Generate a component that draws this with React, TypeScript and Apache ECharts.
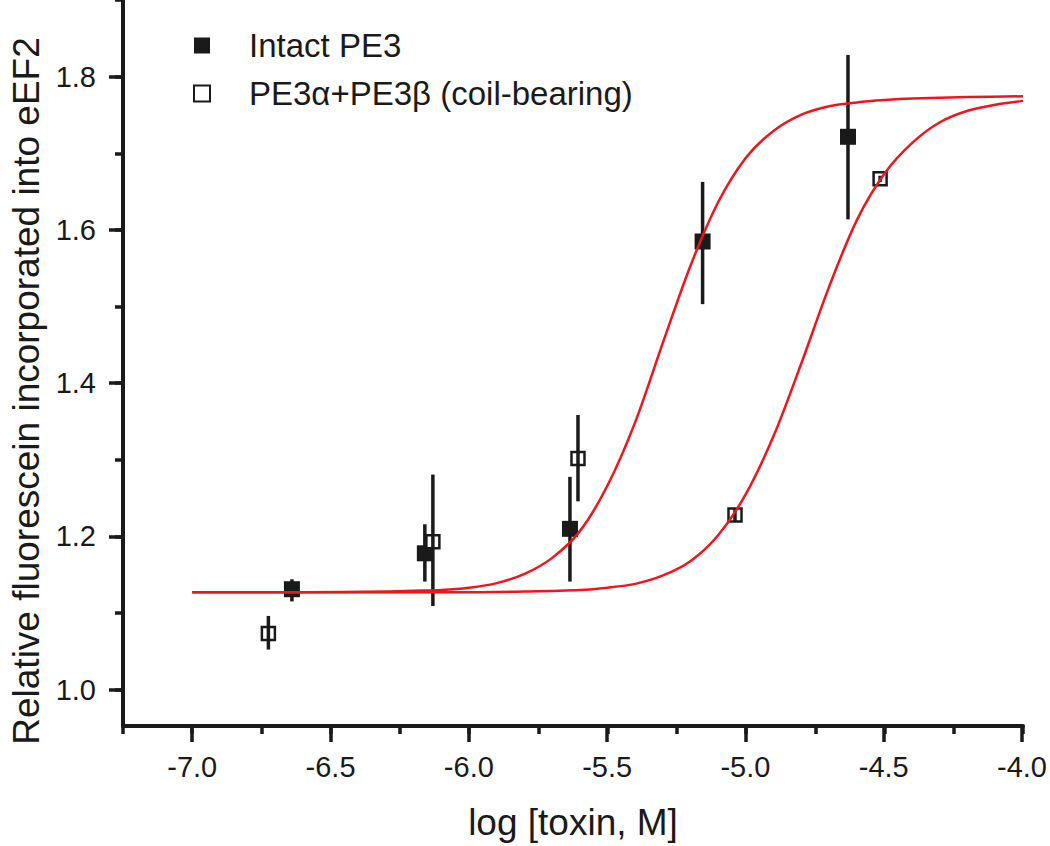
import React, { useEffect, useRef } from "react";
import * as echarts from "echarts";

// ---- data ----
const intactX = [-6.64, -6.16, -5.636, -5.157, -4.632];
const intactY = [1.129, 1.176, 1.208, 1.584, 1.721];
const intactLo = [1.113, 1.139, 1.139, 1.502, 1.613];
const intactHi = [1.142, 1.214, 1.276, 1.662, 1.828];

const coilX = [-6.725, -6.131, -5.607, -5.04, -4.516];
const coilY = [1.071, 1.191, 1.3, 1.226, 1.666];
const coilLo = [1.05, 1.107, 1.244, 1.218, 1.662];
const coilHi = [1.094, 1.279, 1.357, 1.234, 1.67];

// fitted curves
const fit1X = [-7.0, -6.6, -6.3, -6.2, -6.1, -6.0, -5.9, -5.8, -5.7, -5.6, -5.5, -5.4, -5.3, -5.2, -5.1, -5.0, -4.9, -4.8, -4.7, -4.6, -4.5, -4.4, -4.2, -4.0];
const fit1Y = [1.125, 1.125, 1.126, 1.127, 1.128, 1.131, 1.137, 1.149, 1.17, 1.205, 1.265, 1.348, 1.452, 1.553, 1.636, 1.694, 1.729, 1.75, 1.761, 1.766, 1.769, 1.771, 1.773, 1.774];

const fit2X = [-7.0, -6.5, -6.0, -5.8, -5.6, -5.5, -5.4, -5.3, -5.2, -5.1, -5.0, -4.9, -4.8, -4.7, -4.6, -4.5, -4.4, -4.3, -4.2, -4.1, -4.0];
const fit2Y = [1.125, 1.125, 1.125, 1.126, 1.128, 1.131, 1.136, 1.147, 1.166, 1.2, 1.254, 1.33, 1.425, 1.525, 1.612, 1.673, 1.713, 1.74, 1.755, 1.763, 1.768];

const seriesNames = ["Intact PE3", "PE3α+PE3β (coil-bearing)"];
const xTitle = "log [toxin, M]";
const yTitle = "Relative fluorescein incorporated into eEF2";

// axis ranges
const X_MIN = -7.25, X_MAX = -4.0, X_MAJOR_MIN = -7.0, X_MAJOR_STEP = 0.5, X_MINOR_STEP = 0.25;
const Y_MIN = 0.95, Y_MAX = 1.9, Y_MAJOR_MIN = 1.0, Y_MAJOR_MAX = 1.8, Y_MAJOR_STEP = 0.2, Y_MINOR_STEP = 0.1;

// ---- layout ----
const W = 1050, H = 846;
const G = { left: 123, right: 27, top: 0, bottom: 118 };
const plotW = W - G.left - G.right;
const plotH = H - G.top - G.bottom;
const xPix = (v: number) => G.left + ((v - X_MIN) / (X_MAX - X_MIN)) * plotW;
const yPix = (v: number) => G.top + ((Y_MAX - v) / (Y_MAX - Y_MIN)) * plotH;
// band used only to centre the y-axis title where the reference has it
const Y_TITLE_BAND = { top: 30, bottom: 94 };

const FONT = "'Liberation Sans', Arial, Helvetica, sans-serif";
const INK = "#1a1a1a";
const RED = "#f2141c";

export default function App() {
  const ref = useRef<HTMLDivElement>(null);
  useEffect(() => {
    if (!ref.current) return;
    const chart = echarts.init(ref.current, null, { renderer: "svg" });

    const hiddenAxis = (gridIndex: number) => ({
      type: "value", gridIndex, show: false, min: 0, max: 1,
      axisLine: { show: false, onZero: false }, splitLine: { show: false },
    });

    const errRender = (params: any, api: any) => {
      const x = api.value(0);
      const p1 = api.coord([x, api.value(1)]);
      const p2 = api.coord([x, api.value(2)]);
      return {
        type: "line",
        shape: { x1: p1[0], y1: p1[1], x2: p2[0], y2: p2[1] },
        style: { stroke: INK, lineWidth: 3.5 },
      };
    };

    const option: any = {
      animation: false,
      backgroundColor: "#ffffff",
      textStyle: { fontFamily: FONT },
      grid: [
        { left: G.left, right: G.right, top: G.top, bottom: G.bottom },
        { left: xPix(X_MAJOR_MIN), right: G.right, top: G.top, bottom: G.bottom },
        { left: G.left, right: G.right, top: yPix(Y_MAJOR_MAX), bottom: H - yPix(Y_MAJOR_MIN) },
        { left: G.left, right: G.right, top: yPix(Y_MAX), bottom: H - yPix(Y_MAJOR_MIN) },
        { left: G.left, right: G.right, top: Y_TITLE_BAND.top, bottom: Y_TITLE_BAND.bottom },
      ],
      legend: {
        data: seriesNames,
        orient: "vertical",
        left: 188,
        top: 24,
        itemWidth: 16,
        itemHeight: 16,
        itemGap: 15,
        icon: "rect",
        selectedMode: false,
        textStyle: { fontSize: 33, fontFamily: FONT, color: INK, padding: [0, 0, 0, 34] },
      },
      xAxis: [
        {
          type: "value", gridIndex: 0, min: X_MIN, max: X_MAX, interval: X_MINOR_STEP,
          axisLine: { show: true, onZero: false, lineStyle: { color: INK, width: 4 } },
          axisTick: { show: true, length: 8, lineStyle: { color: INK, width: 3.5 } },
          axisLabel: { show: false },
          splitLine: { show: false },
          name: xTitle, nameLocation: "middle", nameGap: 78,
          nameTextStyle: { fontSize: 37, fontFamily: FONT, color: INK },
        },
        {
          type: "value", gridIndex: 1, min: X_MAJOR_MIN, max: X_MAX, interval: X_MAJOR_STEP,
          axisLine: { show: false, onZero: false },
          axisTick: { show: true, length: 14, lineStyle: { color: INK, width: 3.5 } },
          axisLabel: { show: true, fontSize: 29, fontFamily: FONT, color: INK, margin: 24,
            formatter: (v: number) => v.toFixed(1) },
          splitLine: { show: false },
        },
        hiddenAxis(2),
        hiddenAxis(3),
        hiddenAxis(4),
      ],
      yAxis: [
        {
          type: "value", gridIndex: 0, min: Y_MIN, max: Y_MAX,
          axisLine: { show: true, onZero: false, lineStyle: { color: INK, width: 4 } },
          axisTick: { show: false },
          axisLabel: { show: false },
          splitLine: { show: false },
        },
        hiddenAxis(1),
        {
          type: "value", gridIndex: 2, min: Y_MAJOR_MIN, max: Y_MAJOR_MAX, interval: Y_MAJOR_STEP,
          axisLine: { show: false, onZero: false },
          axisTick: { show: true, length: 14, lineStyle: { color: INK, width: 3.5 } },
          axisLabel: { show: true, fontSize: 29, fontFamily: FONT, color: INK, margin: 27,
            formatter: (v: number) => v.toFixed(1) },
          splitLine: { show: false },
        },
        {
          type: "value", gridIndex: 3, min: Y_MAJOR_MIN, max: Y_MAX, interval: Y_MINOR_STEP,
          axisLine: { show: false, onZero: false },
          axisTick: { show: true, length: 8, lineStyle: { color: INK, width: 3.5 } },
          axisLabel: { show: false },
          splitLine: { show: false },
        },
        {
          type: "value", gridIndex: 4, min: 0, max: 1,
          axisLine: { show: false, onZero: false },
          axisTick: { show: false },
          axisLabel: { show: false },
          splitLine: { show: false },
          name: yTitle, nameLocation: "middle", nameGap: 97,
          nameTextStyle: { fontSize: 37, fontFamily: FONT, color: INK },
        },
      ],
      series: [
        {
          name: seriesNames[0], type: "scatter", xAxisIndex: 0, yAxisIndex: 0,
          symbol: "rect", symbolSize: 16, z: 2,
          itemStyle: { color: INK, opacity: 1 },
          data: intactX.map((x, i) => [x, intactY[i]]),
        },
        {
          name: seriesNames[1], type: "scatter", xAxisIndex: 0, yAxisIndex: 0,
          symbol: "rect", symbolSize: 13, z: 2,
          itemStyle: { color: "#ffffff", borderColor: INK, borderWidth: 2.5, opacity: 1 },
          data: coilX.map((x, i) => [x, coilY[i]]),
        },
        {
          name: "err1", type: "custom", xAxisIndex: 0, yAxisIndex: 0, z: 3,
          renderItem: errRender, encode: { x: 0, y: [1, 2] },
          data: intactX.map((x, i) => [x, intactLo[i], intactHi[i]]),
        },
        {
          name: "err2", type: "custom", xAxisIndex: 0, yAxisIndex: 0, z: 3,
          renderItem: errRender, encode: { x: 0, y: [1, 2] },
          data: coilX.map((x, i) => [x, coilLo[i], coilHi[i]]),
        },
        {
          name: "fit1", type: "line", xAxisIndex: 0, yAxisIndex: 0, z: 4,
          showSymbol: false, smooth: 0.3,
          lineStyle: { color: RED, width: 2.5 },
          data: fit1X.map((x, i) => [x, fit1Y[i]]),
        },
        {
          name: "fit2", type: "line", xAxisIndex: 0, yAxisIndex: 0, z: 4,
          showSymbol: false, smooth: 0.3,
          lineStyle: { color: RED, width: 2.5 },
          data: fit2X.map((x, i) => [x, fit2Y[i]]),
        },
      ],
    };

    chart.setOption(option);
    return () => chart.dispose();
  }, []);

  return (
    <div
      ref={ref}
      style={{ position: "absolute", left: 0, top: 0, width: W, height: H, background: "#fff" }}
    />
  );
}
